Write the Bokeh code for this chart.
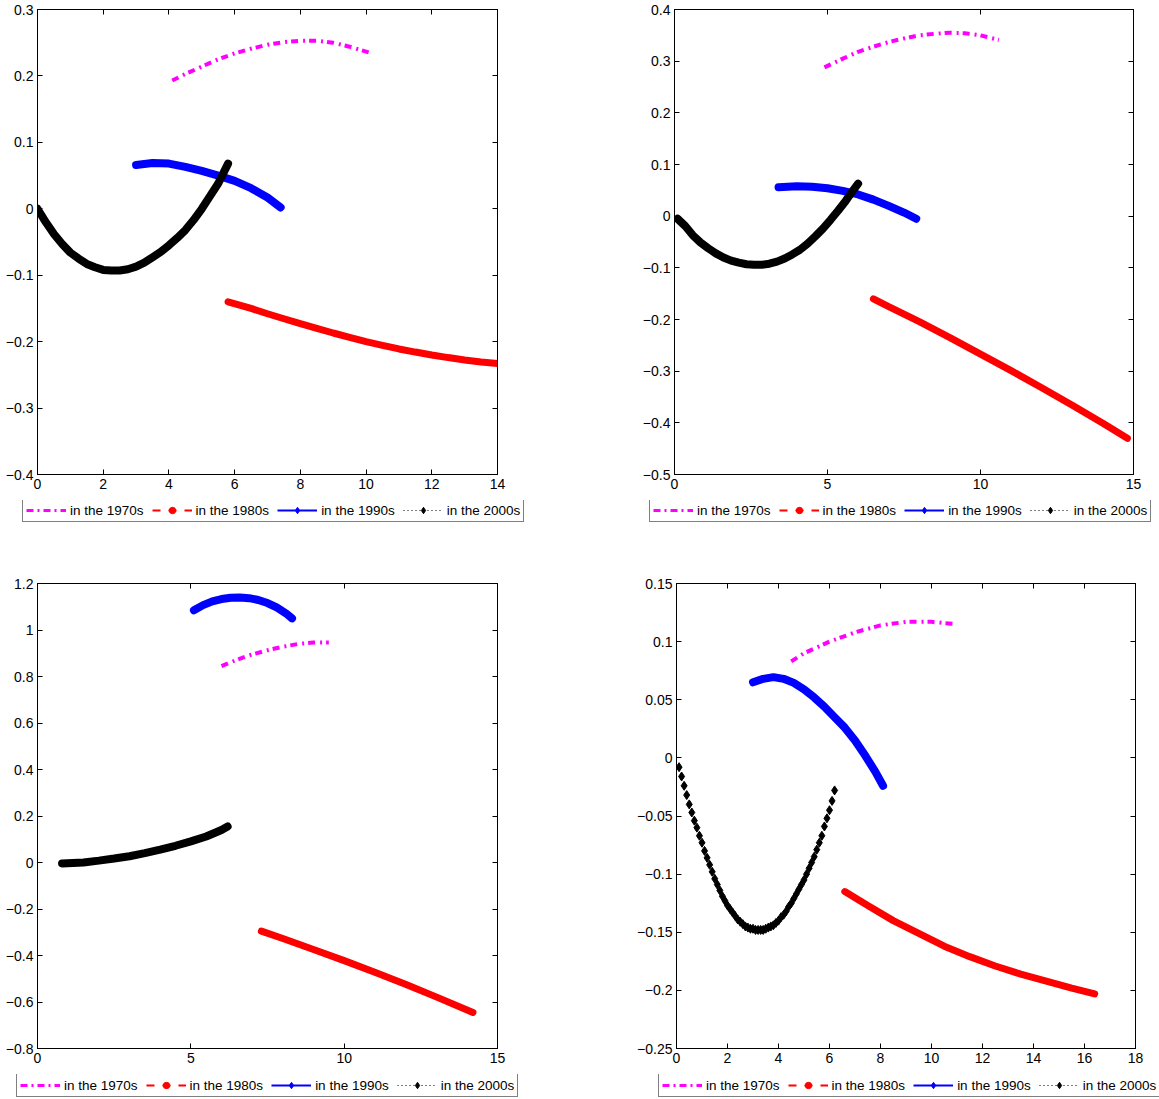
from bokeh.plotting import figure
from bokeh.models import LinearAxis, FixedTicker, Legend, LegendItem, Range1d
from bokeh.layouts import column, row
from bokeh.embed import file_html
from bokeh.resources import INLINE

FONT = "Liberation Sans"
FS = "14px"
LFS = "13.5px"
MAGENTA = "#FF00FF"
RED = "#FF0000"
BLUE = "#0000FF"
BLACK = "#000000"

labels = ["in the 1970s", "in the 1980s", "in the 1990s", "in the 2000s"]

# ---------------- panel 1 (top-left) ----------------
p1_xticks = [0, 2, 4, 6, 8, 10, 12, 14]
p1_xlabels = ["0", "2", "4", "6", "8", "10", "12", "14"]
p1_yticks = [-0.4, -0.3, -0.2, -0.1, 0, 0.1, 0.2, 0.3]
p1_ylabels = ["\u22120.4", "\u22120.3", "\u22120.2", "\u22120.1", "0", "0.1", "0.2", "0.3"]
p1_x70 = [4.1, 4.5, 5.0, 5.5, 6.0, 6.5, 7.0, 7.5, 8.0, 8.5, 9.0, 9.5, 10.1]
p1_y70 = [0.193, 0.203, 0.214, 0.225, 0.234, 0.241, 0.247, 0.251, 0.253, 0.253, 0.250, 0.244, 0.235]
p1_x80 = [5.8, 6.5, 7.0, 7.5, 8.0, 8.5, 9.0, 9.5, 10.0, 10.5, 11.0, 11.5, 12.0, 12.5, 13.0, 13.5, 14.0]
p1_y80 = [-0.140, -0.150, -0.158, -0.1655, -0.173, -0.180, -0.187, -0.1935, -0.200, -0.2055,
          -0.211, -0.2157, -0.220, -0.224, -0.2275, -0.2305, -0.233]
p1_x90 = [3.0, 3.5, 4.0, 4.5, 5.0, 5.5, 6.0, 6.5, 7.0, 7.4]
p1_y90 = [0.066, 0.069, 0.068, 0.063, 0.057, 0.050, 0.042, 0.031, 0.017, 0.002]
p1_x00 = [0.0, 0.25, 0.5, 0.75, 1.0, 1.25, 1.5, 1.75, 2.0, 2.25, 2.5, 2.75, 3.0, 3.25,
          3.5, 3.75, 4.0, 4.25, 4.5, 4.75, 5.0, 5.25, 5.5, 5.8]
p1_y00 = [0.0, -0.020, -0.038, -0.053, -0.066, -0.075, -0.083, -0.088, -0.092, -0.093,
          -0.093, -0.091, -0.087, -0.081, -0.073, -0.065, -0.055, -0.044, -0.032, -0.017,
          0.0, 0.019, 0.038, 0.068]

# ---------------- panel 2 (top-right) ----------------
p2_xticks = [0, 5, 10, 15]
p2_xlabels = ["0", "5", "10", "15"]
p2_yticks = [-0.5, -0.4, -0.3, -0.2, -0.1, 0, 0.1, 0.2, 0.3, 0.4]
p2_ylabels = ["\u22120.5", "\u22120.4", "\u22120.3", "\u22120.2", "\u22120.1", "0", "0.1", "0.2", "0.3", "0.4"]
p2_x70 = [4.9, 5.5, 6.0, 6.5, 7.0, 7.5, 8.0, 8.5, 9.0, 9.5, 10.0, 10.6]
p2_y70 = [0.288, 0.305, 0.318, 0.328, 0.337, 0.344, 0.350, 0.353, 0.355, 0.354, 0.350, 0.341]
p2_x80 = [6.5, 7.0, 8.0, 9.0, 10.0, 11.0, 12.0, 13.0, 14.0, 14.8]
p2_y80 = [-0.160, -0.175, -0.204, -0.235, -0.267, -0.299, -0.332, -0.366, -0.401, -0.430]
p2_x90 = [3.4, 4.0, 4.5, 5.0, 5.5, 6.0, 6.5, 7.0, 7.5, 7.9]
p2_y90 = [0.056, 0.058, 0.057, 0.054, 0.049, 0.042, 0.032, 0.020, 0.007, -0.005]
p2_x00 = [0.1, 0.35, 0.6, 0.85, 1.1, 1.35, 1.6, 1.85, 2.1, 2.35, 2.6, 2.85, 3.1, 3.35,
          3.6, 3.85, 4.1, 4.35, 4.6, 4.85, 5.1, 5.35, 5.6, 5.85, 6.0]
p2_y00 = [-0.005, -0.019, -0.037, -0.051, -0.062, -0.072, -0.080, -0.086, -0.090, -0.093,
          -0.094, -0.094, -0.092, -0.088, -0.082, -0.074, -0.065, -0.053, -0.039, -0.024,
          -0.007, 0.011, 0.030, 0.051, 0.063]

# ---------------- panel 3 (bottom-left) ----------------
p3_xticks = [0, 5, 10, 15]
p3_xlabels = ["0", "5", "10", "15"]
p3_yticks = [-0.8, -0.6, -0.4, -0.2, 0, 0.2, 0.4, 0.6, 0.8, 1.0, 1.2]
p3_ylabels = ["\u22120.8", "\u22120.6", "\u22120.4", "\u22120.2", "0", "0.2", "0.4", "0.6", "0.8", "1", "1.2"]
p3_x70 = [6.0, 6.5, 7.0, 7.5, 8.0, 8.5, 9.0, 9.5]
p3_y70 = [0.845, 0.872, 0.895, 0.913, 0.928, 0.940, 0.946, 0.946]
p3_x80 = [7.3, 8.0, 9.0, 10.0, 11.0, 12.0, 13.0, 14.2]
p3_y80 = [-0.295, -0.327, -0.374, -0.422, -0.472, -0.524, -0.578, -0.645]
p3_x90 = [5.1, 5.4, 5.7, 6.0, 6.3, 6.6, 6.9, 7.2, 7.5, 7.8, 8.1, 8.3]
p3_y90 = [1.085, 1.107, 1.123, 1.133, 1.139, 1.140, 1.137, 1.129, 1.116, 1.097, 1.072, 1.050]
p3_x00 = [0.8, 1.5, 2.0, 2.5, 3.0, 3.5, 4.0, 4.5, 5.0, 5.5, 6.0, 6.2]
p3_y00 = [-0.004, 0.0, 0.008, 0.017, 0.027, 0.040, 0.055, 0.072, 0.091, 0.112, 0.140, 0.155]

# ---------------- panel 4 (bottom-right) ----------------
p4_xticks = [0, 2, 4, 6, 8, 10, 12, 14, 16, 18]
p4_xlabels = ["0", "2", "4", "6", "8", "10", "12", "14", "16", "18"]
p4_yticks = [-0.25, -0.2, -0.15, -0.1, -0.05, 0, 0.05, 0.1, 0.15]
p4_ylabels = ["\u22120.25", "\u22120.2", "\u22120.15", "\u22120.1", "\u22120.05", "0", "0.05", "0.1", "0.15"]
p4_x70 = [4.5, 5.0, 6.0, 7.0, 8.0, 9.0, 10.0, 11.0]
p4_y70 = [0.083, 0.090, 0.100, 0.108, 0.114, 0.117, 0.117, 0.115]
p4_x80 = [6.6, 7.5, 8.5, 9.5, 10.5, 11.5, 12.5, 13.5, 14.5, 15.5, 16.4]
p4_y80 = [-0.115, -0.127, -0.140, -0.151, -0.162, -0.171, -0.179, -0.186, -0.192, -0.198, -0.203]
p4_x90 = [3.0, 3.4, 3.8, 4.2, 4.6, 5.0, 5.4, 5.8, 6.2, 6.6, 7.0, 7.4, 7.8, 8.1]
p4_y90 = [0.065, 0.068, 0.0695, 0.068, 0.0645, 0.059, 0.052, 0.044, 0.035, 0.026, 0.015,
          0.002, -0.012, -0.024]
p4_x00 = [0.1, 0.2, 0.3, 0.4, 0.5, 0.6, 0.7, 0.8, 0.9, 1.0,
          1.1, 1.2, 1.3, 1.4, 1.5, 1.6, 1.7, 1.8, 1.9, 2.0,
          2.1, 2.2, 2.3, 2.4, 2.5, 2.6, 2.7, 2.8, 2.9, 3.0,
          3.1, 3.2, 3.3, 3.4, 3.5, 3.6, 3.7, 3.8, 3.9, 4.0,
          4.1, 4.2, 4.3, 4.4, 4.5, 4.6, 4.7, 4.8, 4.9, 5.0,
          5.1, 5.2, 5.3, 5.4, 5.5, 5.6, 5.7, 5.8, 5.9, 6.0,
          6.1, 6.2]
p4_y00 = [-0.008, -0.016, -0.024, -0.032, -0.040, -0.047, -0.054, -0.060, -0.067, -0.073,
          -0.080, -0.086, -0.092, -0.098, -0.104, -0.109, -0.114, -0.119, -0.123, -0.127,
          -0.130, -0.133, -0.136, -0.139, -0.141, -0.143, -0.145, -0.146, -0.147, -0.147,
          -0.148, -0.148, -0.148, -0.148, -0.147, -0.146, -0.145, -0.144, -0.142, -0.140,
          -0.137, -0.135, -0.132, -0.128, -0.125, -0.121, -0.117, -0.113, -0.109, -0.105,
          -0.100, -0.095, -0.090, -0.085, -0.079, -0.073, -0.067, -0.059, -0.052, -0.045,
          -0.037, -0.028]


def style_axis(ax, ticks, labs, show_labels=True):
    ax.ticker = FixedTicker(ticks=ticks)
    ax.major_tick_in = 5
    ax.major_tick_out = 0
    ax.minor_tick_line_color = None
    ax.axis_line_color = BLACK
    ax.major_tick_line_color = BLACK
    ax.axis_line_width = 1
    ax.major_label_text_font = FONT
    ax.major_label_text_color = BLACK
    if show_labels:
        ax.major_label_text_font_size = FS
        ax.major_label_standoff = 4
        ax.major_label_overrides = {t: l for t, l in zip(ticks, labs)}
    else:
        ax.major_label_text_font_size = "0px"
        ax.major_label_standoff = 0
        ax.major_label_overrides = {t: "" for t in ticks}


def legend_items(f):
    ox = [-1000.0]
    oy = [-1000.0]
    l70 = f.line(x=ox, y=oy, line_color=MAGENTA, line_width=3, line_dash="7 4 2 4")
    l80a = f.line(x=ox, y=oy, line_color=RED, line_width=2, line_dash="8 8")
    l80b = f.scatter(x=ox, y=oy, marker="circle", size=7, fill_color=RED, line_color=RED)
    l90a = f.line(x=ox, y=oy, line_color=BLUE, line_width=2)
    l90b = f.scatter(x=ox, y=oy, marker="diamond", size=8, fill_color=BLUE, line_color=BLUE)
    l00a = f.line(x=ox, y=oy, line_color=BLACK, line_width=1, line_dash="1 3")
    l00b = f.scatter(x=ox, y=oy, marker="diamond", size=9, fill_color=BLACK, line_color=BLACK)
    return [LegendItem(label=labels[0], renderers=[l70]),
            LegendItem(label=labels[1], renderers=[l80a, l80b]),
            LegendItem(label=labels[2], renderers=[l90a, l90b]),
            LegendItem(label=labels[3], renderers=[l00a, l00b])]


def make_legend(items, location):
    return Legend(items=items, orientation="horizontal", location=location,
                  glyph_width=40, glyph_height=16, label_height=16,
                  label_standoff=4, spacing=8, padding=3, margin=0,
                  border_line_color=BLACK, border_line_width=1,
                  background_fill_color="white", background_fill_alpha=1,
                  label_text_font=FONT, label_text_font_size=LFS,
                  label_text_color=BLACK)


def make_panel(xr, yr, xt, xl, yt, yl, x70, y70, x80, y80, x90, y90, x00, y00,
               diamonds, left, right, fw):
    p = figure(x_range=Range1d(*xr), y_range=Range1d(*yr),
               frame_width=fw, frame_height=465,
               min_border_left=left, min_border_right=right,
               min_border_top=9, min_border_bottom=26,
               output_backend="svg", toolbar_location=None,
               background_fill_color="white", border_fill_color="white")
    p.xgrid.grid_line_color = None
    p.ygrid.grid_line_color = None
    p.outline_line_color = BLACK
    p.outline_line_width = 1
    style_axis(p.xaxis[0], xt, xl)
    style_axis(p.yaxis[0], yt, yl)
    top = LinearAxis()
    style_axis(top, xt, xl, False)
    p.add_layout(top, "above")
    rt = LinearAxis()
    style_axis(rt, yt, yl, False)
    p.add_layout(rt, "right")

    p.line(x70, y70, line_color=MAGENTA, line_width=4, line_dash="7 5 2 4", line_cap="butt")
    p.line(x80, y80, line_color=RED, line_width=7, line_cap="round")
    p.line(x90, y90, line_color=BLUE, line_width=8, line_cap="round")
    if diamonds:
        p.scatter(x00, y00, marker="diamond", size=9, fill_color=BLACK, line_color=BLACK)
    else:
        p.line(x00, y00, line_color=BLACK, line_width=8, line_cap="round")
    return p


def make_legend_strip(width, height, spots):
    f = figure(x_range=Range1d(0, 1), y_range=Range1d(0, 1),
               width=width, height=height,
               min_border_left=0, min_border_right=0, min_border_top=0, min_border_bottom=0,
               x_axis_location=None, y_axis_location=None,
               output_backend="svg", toolbar_location=None,
               background_fill_color="white", border_fill_color="white")
    f.xgrid.grid_line_color = None
    f.ygrid.grid_line_color = None
    f.outline_line_color = None
    for (lx, ltop) in spots:
        f.add_layout(make_legend(legend_items(f), (lx, height - ltop - 22)), "center")
    return f


p1 = make_panel((0, 14), (-0.4, 0.3), p1_xticks, p1_xlabels, p1_yticks, p1_ylabels,
                p1_x70, p1_y70, p1_x80, p1_y80, p1_x90, p1_y90, p1_x00, p1_y00,
                False, 37, 137, 460)
p2 = make_panel((0, 15), (-0.5, 0.4), p2_xticks, p2_xlabels, p2_yticks, p2_ylabels,
                p2_x70, p2_y70, p2_x80, p2_y80, p2_x90, p2_y90, p2_x00, p2_y00,
                False, 40, 26, 459)
p3 = make_panel((0, 15), (-0.8, 1.2), p3_xticks, p3_xlabels, p3_yticks, p3_ylabels,
                p3_x70, p3_y70, p3_x80, p3_y80, p3_x90, p3_y90, p3_x00, p3_y00,
                False, 37, 137, 460)
p4 = make_panel((0, 18), (-0.25, 0.15), p4_xticks, p4_xlabels, p4_yticks, p4_ylabels,
                p4_x70, p4_y70, p4_x80, p4_y80, p4_x90, p4_y90, p4_x00, p4_y00,
                True, 40, 26, 459)

strip1 = make_legend_strip(1159, 74, [(22, 0), (649, 0)])
strip2 = make_legend_strip(1159, 25, [(16, 1), (658, 1)])

layout = column(row(p1, p2), strip1, row(p3, p4), strip2)
open("out.html", "w").write(file_html(layout, INLINE))
